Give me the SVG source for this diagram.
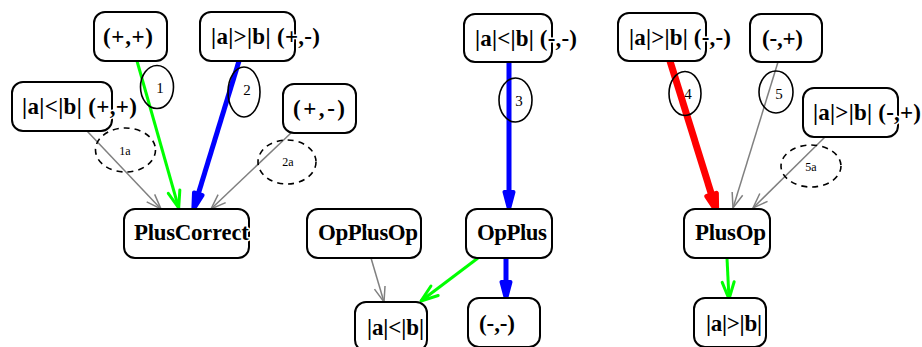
<svg xmlns="http://www.w3.org/2000/svg" width="922" height="347" viewBox="0 0 922 347">
<style>
.box{fill:#fff;stroke:#000;stroke-width:2}
.lbl{font-family:"Liberation Serif","Times New Roman",serif;font-weight:bold;font-size:23px;fill:#000;stroke:#fff;stroke-width:3;paint-order:stroke;stroke-linejoin:round}
.el{fill:none;stroke:#000;stroke-width:1.6}
.eld{fill:none;stroke:#000;stroke-width:1.6;stroke-dasharray:6,5}
.num{font-family:"Liberation Serif","Times New Roman",serif;font-size:15px;fill:#000;text-anchor:middle}
.sm{font-family:"Liberation Serif","Times New Roman",serif;font-size:12px;fill:#000;text-anchor:middle}
.gray{fill:none;stroke:#808080;stroke-width:1.5;marker-end:url(#mGray)}
.green{fill:none;stroke:#00ff00;stroke-width:3;marker-end:url(#mGreen)}
.blue{fill:none;stroke:#0000ff;stroke-width:5;marker-end:url(#mBlue)}
.red{fill:none;stroke:#ff0000;stroke-width:7;marker-end:url(#mRed)}
</style>
<defs>
<marker id="mGray" markerUnits="userSpaceOnUse" markerWidth="30" markerHeight="30" refX="0" refY="0" orient="auto" overflow="visible" viewBox="-20 -15 30 30">
<path d="M-15,-5.5 L0,0 L-15,5.5" fill="none" stroke="#808080" stroke-width="1.5"/>
</marker>
<marker id="mGreen" markerUnits="userSpaceOnUse" markerWidth="30" markerHeight="30" refX="0" refY="0" orient="auto" overflow="visible" viewBox="-20 -15 30 30">
<path d="M-17,-6 L0,0 L-17,6" fill="none" stroke="#00ff00" stroke-width="3" stroke-linejoin="round" stroke-linecap="round"/>
</marker>
<marker id="mBlue" markerUnits="userSpaceOnUse" markerWidth="40" markerHeight="40" refX="0" refY="0" orient="auto" overflow="visible" viewBox="-10 -20 40 40">
<path d="M0,-4.5 L17,0 L0,4.5 Z" fill="#0000ff" stroke="#0000ff" stroke-width="4" stroke-linejoin="round"/>
</marker>
<marker id="mRed" markerUnits="userSpaceOnUse" markerWidth="40" markerHeight="40" refX="0" refY="0" orient="auto" overflow="visible" viewBox="-10 -20 40 40">
<path d="M0,-5 L17,0 L0,5 Z" fill="#ff0000" stroke="#ff0000" stroke-width="5" stroke-linejoin="round"/>
</marker>
</defs>

<g id="connectors">
<path class="green" d="M137,61 L178.7,208"/>
<path class="blue" d="M239,61 L198.3,193.8"/>
<path class="gray" d="M87,131 L161,209"/>
<path class="gray" d="M291,133 L211,209"/>
<path class="blue" d="M509,62 L509,192"/>
<path class="gray" d="M371,258 L384,302"/>
<path class="green" d="M478,258 L421,301"/>
<path class="blue" d="M506,258 L506,282"/>
<path class="red" d="M670,61 L711.6,194.8"/>
<path class="gray" d="M778,62 L733,208"/>
<path class="gray" d="M825,137 L753,208"/>
<path class="green" d="M727,258 L729,299"/>
</g>

<g id="edge-labels">
<g id="lbl1"><ellipse class="el" cx="157" cy="87" rx="16.5" ry="21.5"/><text class="num" x="160" y="93">1</text></g>
<g id="lbl2"><ellipse class="el" cx="244" cy="92" rx="16" ry="25"/><text class="num" x="247" y="95">2</text></g>
<g id="lbl1a"><ellipse class="eld" cx="125.5" cy="150" rx="30" ry="22"/><text class="sm" x="125" y="155">1a</text></g>
<g id="lbl2a"><ellipse class="eld" cx="287" cy="162" rx="29" ry="22"/><text class="sm" x="288" y="166">2a</text></g>
<g id="lbl3"><ellipse class="el" cx="515.5" cy="100" rx="16.5" ry="22"/><text class="num" x="519" y="106">3</text></g>
<g id="lbl4"><ellipse class="el" cx="685" cy="93.5" rx="16" ry="22"/><text class="num" x="688" y="99">4</text></g>
<g id="lbl5"><ellipse class="el" cx="776" cy="92" rx="17" ry="21"/><text class="num" x="779" y="99">5</text></g>
<g id="lbl5a"><ellipse class="eld" cx="811" cy="166" rx="30" ry="21"/><text class="sm" x="811" y="171">5a</text></g>
</g>

<g id="n_pp"><rect class="box" x="94" y="12" width="73" height="49" rx="11"/><text class="lbl" x="103" y="44" textLength="50" lengthAdjust="spacing">(+,+)</text></g>
<g id="n_gt_pm"><rect class="box" x="200" y="12" width="95" height="49" rx="11"/><text class="lbl" x="211" y="44" textLength="109" lengthAdjust="spacing">|a|&gt;|b| (+,-)</text></g>
<g id="n_lt_pp"><rect class="box" x="12" y="82" width="100" height="49" rx="11"/><text class="lbl" x="22" y="114" textLength="115" lengthAdjust="spacing">|a|&lt;|b| (+,+)</text></g>
<g id="n_pm"><rect class="box" x="283" y="84" width="73" height="49" rx="11"/><text class="lbl" x="293" y="116" textLength="52" lengthAdjust="spacing">(+,-)</text></g>
<g id="n_PlusCorrect"><rect class="box" x="124" y="209" width="125" height="49" rx="11"/><text class="lbl" x="134" y="240" textLength="115" lengthAdjust="spacing">PlusCorrect</text></g>
<g id="n_lt_mm"><rect class="box" x="464" y="14" width="88" height="48" rx="11"/><text class="lbl" x="475" y="46" textLength="102" lengthAdjust="spacing">|a|&lt;|b| (-,-)</text></g>
<g id="n_OpPlusOp"><rect class="box" x="307" y="209" width="114" height="49" rx="11"/><text class="lbl" x="318" y="240" textLength="100" lengthAdjust="spacing">OpPlusOp</text></g>
<g id="n_OpPlus"><rect class="box" x="466" y="209" width="86" height="49" rx="11"/><text class="lbl" x="477" y="240" textLength="70" lengthAdjust="spacing">OpPlus</text></g>
<g id="n_lt"><rect class="box" x="355" y="302" width="72" height="49" rx="11"/><text class="lbl" x="367" y="335" textLength="57" lengthAdjust="spacing">|a|&lt;|b|</text></g>
<g id="n_mm"><rect class="box" x="468" y="298" width="72" height="49" rx="11"/><text class="lbl" x="479" y="331" textLength="36" lengthAdjust="spacing">(-,-)</text></g>
<g id="n_gt_mm"><rect class="box" x="618" y="13" width="88" height="48" rx="11"/><text class="lbl" x="629" y="45" textLength="102" lengthAdjust="spacing">|a|&gt;|b| (-,-)</text></g>
<g id="n_mp"><rect class="box" x="750" y="14" width="72" height="48" rx="11"/><text class="lbl" x="762" y="46" textLength="41" lengthAdjust="spacing">(-,+)</text></g>
<g id="n_gt_mp"><rect class="box" x="803" y="88" width="95" height="49" rx="11"/><text class="lbl" x="813" y="120" textLength="108" lengthAdjust="spacing">|a|&gt;|b| (-,+)</text></g>
<g id="n_PlusOp"><rect class="box" x="684" y="209" width="86" height="49" rx="11"/><text class="lbl" x="695" y="240" textLength="71" lengthAdjust="spacing">PlusOp</text></g>
<g id="n_gt"><rect class="box" x="694" y="298" width="72" height="49" rx="11"/><text class="lbl" x="706" y="331" textLength="56" lengthAdjust="spacing">|a|&gt;|b|</text></g>
</svg>
